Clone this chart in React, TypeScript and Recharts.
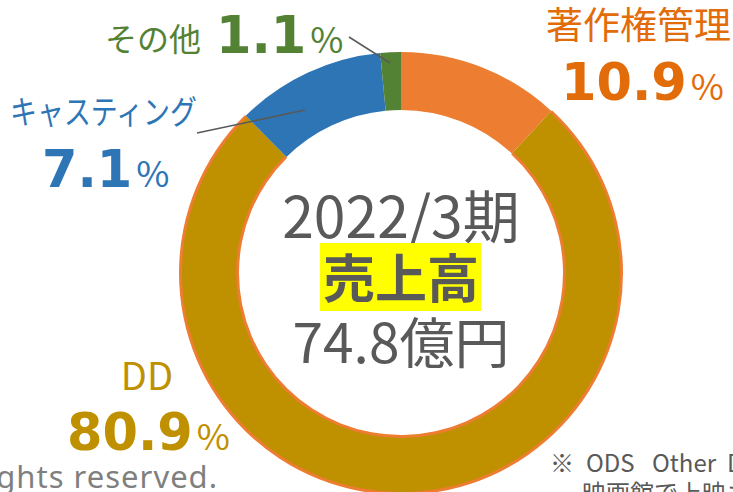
import { PieChart, Pie, Cell } from "recharts";

// segment names, clockwise from 12 o'clock
const segments = ["著作権管理", "DD", "キャスティング", "その他"];
// share of the ring each segment occupies as drawn in the reference (%)
const drawnShares = [11.9, 75.7, 10.9, 1.5];
// percentages printed in the labels
const labelValues = ["10.9", "80.9", "7.1", "1.1"];
const sliceColors = ["#ED7D31", "#BF9000", "#2E75B6", "#548235"];
const labelColors = ["#E36C0A", "#BF9000", "#2E75B6", "#548235"];

const centerLines = ["2022/3期", "売上高", "74.8億円"];

const data = segments.map((name, i) => ({ name, value: drawnShares[i] }));

const jp = '"Noto Sans CJK JP", "Noto Sans", sans-serif';
const num = '"DejaVu Sans", Verdana, sans-serif';

function Pct({ x, y, value, anchor = "start" }: any) {
  return (
    <text x={x} y={y} textAnchor={anchor}>
      <tspan fontFamily={num} fontWeight="bold" fontSize={51}>{value}</tspan>
      <tspan fontFamily={jp} fontSize={36} dx={4}>%</tspan>
    </text>
  );
}

function Ring({ inner, outer, fills }: { inner: number; outer: number; fills: string[] }) {
  return (
    <Pie
      data={data}
      dataKey="value"
      cx={401}
      cy={273}
      innerRadius={inner}
      outerRadius={outer}
      startAngle={90}
      endAngle={-270}
      stroke="none"
      isAnimationActive={false}
    >
      {data.map((d, i) => (
        <Cell key={d.name} fill={fills[i]} />
      ))}
    </Pie>
  );
}

const edge = ["transparent", "#ED7D31", "transparent", "transparent"];

export default function App() {
  return (
    <div style={{ position: "absolute", left: 0, top: 0, width: 733, height: 492, background: "#fff", overflow: "hidden" }}>
      <PieChart width={733} height={492} margin={{ top: 0, right: 0, bottom: 0, left: 0 }}>
        {Ring({ inner: 163, outer: 221, fills: sliceColors })}
        {/* orange edges on the DD segment */}
        {Ring({ inner: 219, outer: 222, fills: edge })}
        {Ring({ inner: 162, outer: 165, fills: edge })}
      </PieChart>

      <svg width={733} height={492} style={{ position: "absolute", left: 0, top: 0 }}>
        {/* leader lines */}
        <line x1={349} y1={37} x2={390} y2={63} stroke="#595959" strokeWidth={1.5} />
        <line x1={197} y1={133} x2={305} y2={110} stroke="#595959" strokeWidth={1.5} />

        <g fill={labelColors[3]}>
          <text x={105} y={51} fontFamily={jp} fontSize={32}>{segments[3]}</text>
          <Pct x={216} y={53} value={labelValues[3]} />
        </g>

        <g fill={labelColors[0]}>
          <text x={731} y={39} fontFamily={jp} fontSize={37} textAnchor="end">{segments[0]}</text>
          <Pct x={561} y={100} value={labelValues[0]} />
        </g>

        <g fill={labelColors[2]}>
          <text x={10} y={124} fontFamily={jp} fontSize={33} textLength={187} lengthAdjust="spacingAndGlyphs">{segments[2]}</text>
          <Pct x={42} y={187} value={labelValues[2]} />
        </g>

        <g fill={labelColors[1]}>
          <text x={147} y={390} fontFamily={jp} fontSize={38} textAnchor="middle">{segments[1]}</text>
          <Pct x={67} y={450} value={labelValues[1]} />
        </g>

        {/* centre */}
        <text x={401} y={238} fontFamily={jp} fontSize={57} fill="#595959" textAnchor="middle">{centerLines[0]}</text>
        <rect x={320} y={243} width={161} height={68} fill="#FFFF00" />
        <text x={401} y={298} fontFamily={jp} fontSize={52} fontWeight="bold" fill="#595959" textAnchor="middle">{centerLines[1]}</text>
        <text x={401} y={363} fontFamily={jp} fontSize={55} fill="#595959" textAnchor="middle">{centerLines[2]}</text>

        {/* footer */}
        <text x={218} y={488} fontFamily={'"Noto Sans", sans-serif'} fontSize={31} letterSpacing={1} fill="#7F7F7F" textAnchor="end">All rights reserved.</text>
        <text y={472} fontFamily={jp} fontSize={24} fill="#595959">
          <tspan x={550}>※</tspan>
          <tspan x={586}>ODS</tspan>
          <tspan x={652}>Other</tspan>
          <tspan x={727}>Digital Stuff</tspan>
        </text>
        <text x={582} y={502} fontFamily={jp} fontSize={24} fill="#595959">映画館で上映された作品</text>
      </svg>
    </div>
  );
}
